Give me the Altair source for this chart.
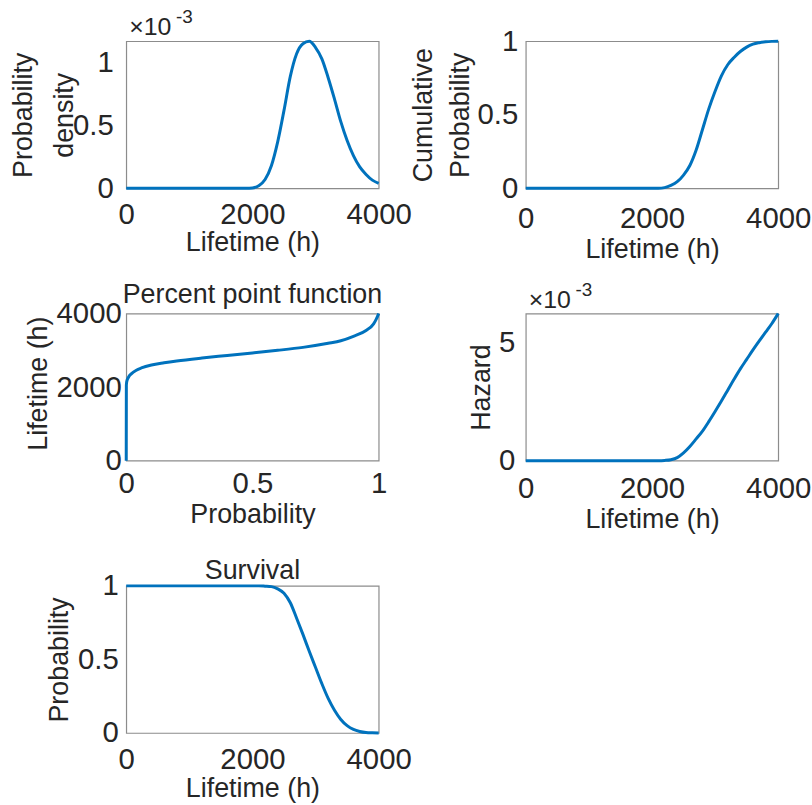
import altair as alt
import pandas as pd

# ---------------- data ----------------
t_hours = list(range(0, 4001, 100))

# probability density (units of 1e-3)
pdf_e3 = [0] * 20 + [0.003, 0.02, 0.07, 0.18, 0.37, 0.62, 0.89, 1.07, 1.15, 1.169,
                     1.12, 1.03, 0.88, 0.71, 0.53, 0.38, 0.26, 0.17, 0.11, 0.065, 0.04]

# cumulative probability
cdf = [0] * 22 + [0.005, 0.02, 0.045, 0.09, 0.155, 0.26, 0.40, 0.54, 0.66, 0.765,
                  0.84, 0.89, 0.93, 0.96, 0.98, 0.99, 0.996, 0.999, 1.0]

# percent point function
ppf_prob = [0, 0.0005, 0.002, 0.01, 0.02, 0.04, 0.06, 0.1, 0.15, 0.2, 0.3, 0.4, 0.5,
            0.6, 0.7, 0.8, 0.85, 0.9, 0.95, 0.98, 0.99, 1.0]
ppf_life = [0, 2050, 2150, 2280, 2360, 2460, 2520, 2600, 2660, 2710, 2790, 2860, 2930,
            3000, 3080, 3190, 3260, 3380, 3540, 3720, 3840, 4000]

# hazard (units of 1e-3)
hazard_e3 = [0] * 22 + [0.01, 0.04, 0.13, 0.33, 0.60, 0.92, 1.25, 1.65, 2.08, 2.52,
                        2.98, 3.44, 3.88, 4.28, 4.68, 5.06, 5.43, 5.80, 6.22]

# survival
survival = [1] * 22 + [0.998, 0.995, 0.98, 0.95, 0.885, 0.78, 0.67, 0.555, 0.445, 0.335,
                       0.235, 0.155, 0.092, 0.05, 0.024, 0.01, 0.003, 0.001, 0.0]

# ---------------- styling ----------------
FONT = "Liberation Sans"
TXT = "#262626"
BLUE = "#0072BD"
W, H = 254, 148
TICK_FS = 29.5
TITLE_FS = 27


def panel(xs, ys, xdom, ydom, xticks, yticks, xtitle, ytitle,
          x_lp, x_ty, y_lp, y_tx, y_ty=H / 2, y_lh=38, exponent=False, title=None,
          title_offset=8):
    df = pd.DataFrame({"x": xs, "y": ys})
    xaxis = alt.Axis(values=xticks, title=xtitle, format="~r", labelFlush=False,
                     labelOverlap=False, ticks=False, tickSize=0, domain=False, grid=False,
                     labelFontSize=TICK_FS, labelBaseline="alphabetic", labelPadding=x_lp,
                     titleFontSize=TITLE_FS, titleFontWeight="normal", titleY=x_ty,
                     titleBaseline="alphabetic")
    yaxis = alt.Axis(values=yticks, title=ytitle, format="~r", labelFlush=False,
                     labelOverlap=False, ticks=False, tickSize=0, domain=False, grid=False,
                     labelFontSize=TICK_FS, labelPadding=y_lp,
                     titleFontSize=TITLE_FS, titleFontWeight="normal", titleX=y_tx,
                     titleY=y_ty, titleBaseline="middle", titleAlign="center",
                     titleAngle=270, titleLineHeight=y_lh)
    line = alt.Chart(df).mark_line(color=BLUE, strokeWidth=3, interpolate="monotone").encode(
        x=alt.X("x:Q", scale=alt.Scale(domain=xdom, nice=False, zero=False), axis=xaxis),
        y=alt.Y("y:Q", scale=alt.Scale(domain=ydom, nice=False, zero=False), axis=yaxis),
    )
    layers = [line]
    if exponent:
        t1 = alt.Chart(pd.DataFrame({"s": ["×10"]})).mark_text(
            align="left", baseline="alphabetic", fontSize=25, font=FONT, color=TXT
        ).encode(x=alt.value(3), y=alt.value(-6), text="s:N")
        t2 = alt.Chart(pd.DataFrame({"s": ["-3"]})).mark_text(
            align="left", baseline="alphabetic", fontSize=19, font=FONT, color=TXT
        ).encode(x=alt.value(50), y=alt.value(-18), text="s:N")
        layers += [t1, t2]
    if title:
        tt = alt.Chart(pd.DataFrame({"s": [title]})).mark_text(
            align="center", baseline="alphabetic", fontSize=TITLE_FS, font=FONT, color=TXT
        ).encode(x=alt.value(W / 2), y=alt.value(-title_offset), text="s:N")
        layers.append(tt)
    return alt.layer(*layers).properties(width=W, height=H)


p1 = panel(t_hours, pdf_e3, [0, 4000], [0, 1.17], [0, 2000, 4000], [0, 0.5, 1],
           "Lifetime (h)", ["Probability", "density"],
           x_lp=35, x_ty=63, y_lp=13, y_tx=-103, y_lh=41, exponent=True)
p2 = panel(t_hours, cdf, [0, 4000], [0, 1], [0, 2000, 4000], [0, 0.5, 1],
           "Lifetime (h)", ["Cumulative", "Probability"],
           x_lp=39, x_ty=70, y_lp=8, y_tx=-103, y_lh=37)
p3 = panel(ppf_prob, ppf_life, [0, 1], [0, 4000], [0, 0.5, 1], [0, 2000, 4000],
           "Probability", "Lifetime (h)",
           x_lp=32, x_ty=62, y_lp=5, y_tx=-88, y_ty=70,
           title="Percent point function", title_offset=11)
p4 = panel(t_hours, hazard_e3, [0, 4000], [0, 6.22], [0, 2000, 4000], [0, 5],
           "Lifetime (h)", "Hazard",
           x_lp=37, x_ty=67, y_lp=11, y_tx=-44.5, exponent=True)
p5 = panel(t_hours, survival, [0, 4000], [0, 1], [0, 2000, 4000], [0, 0.5, 1],
           "Lifetime (h)", "Probability",
           x_lp=36, x_ty=64, y_lp=8, y_tx=-67,
           title="Survival", title_offset=7)

chart = alt.concat(p1, p2, p3, p4, p5, columns=2,
                   spacing={"row": 126, "column": 148}, bounds="flush").properties(
    padding={"left": 9, "top": 5, "right": 0, "bottom": 0},
    background="white",
).configure_view(stroke="#8c8c8c", strokeWidth=1.2).configure_axis(
    labelFont=FONT, titleFont=FONT, labelColor=TXT, titleColor=TXT
)

chart.save("out.html", embed_options={"renderer": "svg", "actions": False})
